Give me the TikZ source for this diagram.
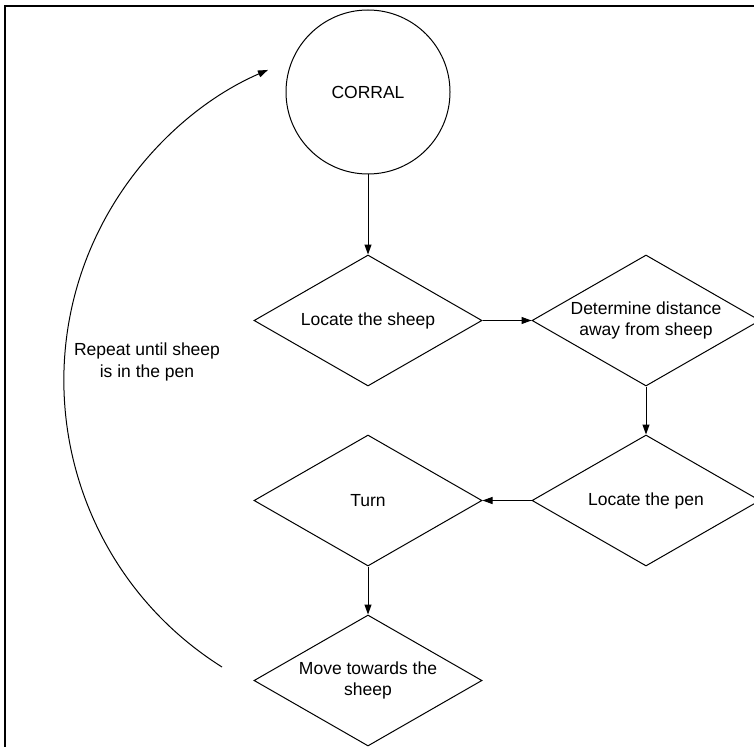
\documentclass[tikz,border=0pt]{standalone}
\usepackage{fontspec}
\setmainfont{Liberation Sans}
\usetikzlibrary{shapes.geometric,arrows.meta}
\begin{document}
\begin{tikzpicture}[x=1pt,y=-1pt,
  every node/.style={font=\fontsize{17.5}{21.5}\selectfont, align=center},
  dia/.style={draw, line width=1pt, diamond, inner sep=0pt, minimum width=228pt, minimum height=131pt},
  arr/.style={draw, line width=1pt, -{Triangle[length=10pt,width=7pt]}}]
\useasboundingbox (0,0) rectangle (754,746);
\draw[line width=2.2pt] (5,750) -- (5,6) -- (760,6);
\node[draw, circle, line width=1pt, minimum size=164pt, inner sep=0pt] (corral) at (368,92) {CORRAL};
\node[dia] (d1) at (368,320.5) {};
\node[dia] (d2) at (646,320.5) {};
\node[dia] (d3) at (646,500.5) {};
\node[dia] (d4) at (368,500.5) {};
\node[dia] (d5) at (368,680.5) {};
\node (t1) at (d1) {Locate the sheep};
\node (t2) at (d2) {Determine distance\\away from sheep};
\node (t3) at (d3) {Locate the pen};
\node (t4) at (d4) {Turn};
\node (t5) at (d5) {Move towards the\\sheep};
\node (rep) at (147,362) {Repeat until sheep\\is in the pen};
\draw[arr] (corral.south) -- (d1.north);
\draw[arr] (d1.east) -- (d2.west);
\draw[arr] (d2.south) -- (d3.north);
\draw[arr] (d3.west) -- (d4.east);
\draw[arr] (d4.south) -- (d5.north);
\coordinate (rs) at (222,667);
\draw[arr] (rs) arc[start angle=122.2, end angle=246.6, radius=338.5];
\end{tikzpicture}
\end{document}
